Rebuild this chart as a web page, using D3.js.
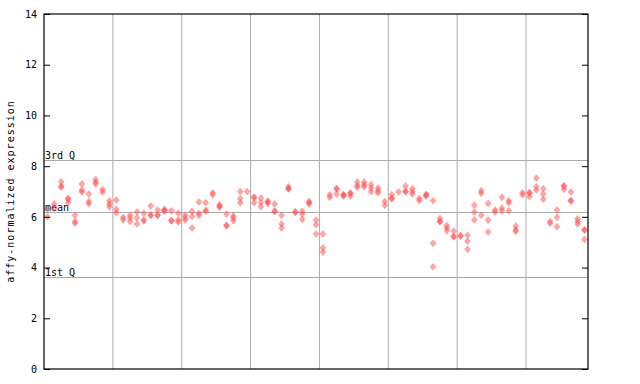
<!DOCTYPE html>
<html>
<head>
<meta charset="utf-8">
<script src="https://cdn.jsdelivr.net/npm/d3@7"></script>
<style>
  body { margin: 0; background: #ffffff; }
  text { font-family: "DejaVu Sans Mono", monospace; }
</style>
</head>
<body>
<script>
const width = 640;
const height = 384;

// expression values for each sample column (replicates)
const samples = [
  [6.31, 6.0], [6.51, 6.35], [7.38, 7.2, 7.18], [6.72, 6.7, 6.56], [6.06, 5.82, 5.75],
  [7.3, 7.06, 6.98], [6.9, 6.61, 6.53], [7.47, 7.37, 7.3], [7.08, 6.98], [6.64, 6.51, 6.4],
  [6.66, 6.3, 6.16], [5.98, 5.89], [6.06, 5.96, 5.82], [6.19, 5.96, 5.72], [6.14, 5.87, 5.85],
  [6.43, 6.07, 6.05], [6.27, 6.07, 6.05], [6.3, 6.25, 6.23], [6.24, 5.86, 5.84], [6.14, 5.88, 5.8],
  [6.06, 5.96, 5.88], [6.22, 6.01, 5.56], [6.59, 6.14, 6.06], [6.56, 6.25, 6.23], [6.95, 6.87],
  [6.48, 6.41, 6.39], [6.11, 5.67, 5.65], [6.03, 5.96, 5.85], [7.0, 6.72, 6.56], [7.0],
  [6.78, 6.76, 6.56], [6.74, 6.56, 6.4], [6.62, 6.6, 6.53], [6.51, 6.23, 6.21], [6.06, 5.72, 5.56],
  [7.19, 7.12, 7.1], [6.2, 6.18], [6.22, 6.11, 5.9], [6.6, 6.58, 6.51], [5.88, 5.69, 5.32],
  [5.32, 4.77, 4.61], [6.87, 6.77], [7.12, 7.1, 6.9], [6.88, 6.86, 6.82], [6.94, 6.92, 6.82],
  [7.37, 7.24, 7.17], [7.37, 7.27, 7.19], [7.27, 7.14, 7.0], [7.14, 7.03, 6.95], [6.61, 6.46],
  [6.87, 6.73, 6.71], [6.98], [7.22, 7.01, 6.99], [7.11, 7.0, 6.9], [6.72, 6.64],
  [6.88, 6.86, 6.82], [6.64, 4.96, 4.03], [5.94, 5.83, 5.81], [5.66, 5.56, 5.45], [5.43, 5.23, 5.21],
  [5.26, 5.24], [5.27, 5.04, 4.72], [6.46, 6.19, 5.88], [7.03, 6.93, 6.06], [6.53, 5.88, 5.4],
  [6.27, 6.19], [6.77, 6.35, 6.24], [6.64, 6.56, 6.24], [5.64, 5.49, 5.43], [6.95, 6.87],
  [6.96, 6.94, 6.8], [7.53, 7.19, 7.06], [7.11, 6.9, 6.69], [5.82, 5.75], [6.27, 5.98, 5.61],
  [7.23, 7.21, 7.09], [6.98, 6.65, 6.63], [5.93, 5.82, 5.72], [5.49, 5.47, 5.11]
];

// gridline positions (between sample columns)
const groupBreaks = [9.5, 19.5, 29.5, 39.5, 49.5, 59.5, 69.5];
const yTicks = [0, 2, 4, 6, 8, 10, 12, 14];
const refValues = [8.24, 6.2, 3.62];
const refLabels = ["3rd Q", "mean", "1st Q"];

const margin = {left: 44, right: 52, top: 14, bottom: 15};

const svg = d3.select("body").append("svg")
    .attr("width", width)
    .attr("height", height);

const x = d3.scaleLinear()
    .domain([-0.5, samples.length - 0.5])
    .range([margin.left, width - margin.right]);

const y = d3.scaleLinear()
    .domain([0, 14])
    .range([height - margin.bottom, margin.top]);

// vertical gridlines
svg.append("g")
    .selectAll("line")
    .data(groupBreaks)
    .join("line")
    .attr("x1", d => x(d))
    .attr("x2", d => x(d))
    .attr("y1", y(14))
    .attr("y2", y(0))
    .attr("stroke", "#aaaaaa")
    .attr("stroke-width", 1);

// quartile / mean lines
svg.append("g")
    .selectAll("line")
    .data(refValues)
    .join("line")
    .attr("x1", x.range()[0])
    .attr("x2", x.range()[1])
    .attr("y1", d => Math.round(y(d)) + 0.5)
    .attr("y2", d => Math.round(y(d)) + 0.5)
    .attr("stroke", "#aaaaaa")
    .attr("stroke-width", 1);

svg.append("g")
    .selectAll("text")
    .data(refValues)
    .join("text")
    .attr("x", x.range()[0] + 1)
    .attr("y", d => Math.round(y(d)) - 1)
    .text((d, i) => refLabels[i])
    .style("font-size", "10px")
    .style("fill", "#000000");

// points
const points = [];
samples.forEach((vals, i) => {
    vals.forEach(v => points.push({i: i, v: v}));
});

const diamond = "M0,-3.5L3,0L0,3.5L-3,0Z";

svg.append("g")
    .selectAll("path")
    .data(points)
    .join("path")
    .attr("d", diamond)
    .attr("transform", d => `translate(${x(d.i)},${y(d.v)})`)
    .attr("fill", "#ff4d4d")
    .attr("fill-opacity", 0.5)
    .attr("stroke", "#ff6666")
    .attr("stroke-opacity", 0.5)
    .attr("stroke-width", 0.6);

// axes
const leftAxis = d3.axisLeft(y)
    .tickValues(yTicks)
    .tickSizeInner(-6)
    .tickSizeOuter(0)
    .tickPadding(7)
    .tickFormat(d3.format("d"));

const gl = svg.append("g")
    .attr("transform", `translate(${margin.left},0)`)
    .call(leftAxis);
gl.select(".domain").remove();
gl.selectAll("text")
    .style("font-family", "DejaVu Sans Mono, monospace")
    .style("font-size", "10px")
    .attr("fill", "#000000");
gl.selectAll("line").attr("stroke", "#000000");

const rightAxis = d3.axisRight(y)
    .tickValues(yTicks)
    .tickSizeInner(-6)
    .tickSizeOuter(0)
    .tickFormat("");

const gr = svg.append("g")
    .attr("transform", `translate(${width - margin.right},0)`)
    .call(rightAxis);
gr.select(".domain").remove();
gr.selectAll("line").attr("stroke", "#000000");

// frame
svg.append("rect")
    .attr("x", margin.left)
    .attr("y", margin.top)
    .attr("width", width - margin.left - margin.right)
    .attr("height", height - margin.top - margin.bottom)
    .attr("fill", "none")
    .attr("stroke", "#000000")
    .attr("stroke-width", 1.2);

// y axis title
svg.append("text")
    .attr("transform", `translate(14,${(y(0) + y(14)) / 2}) rotate(-90)`)
    .attr("text-anchor", "middle")
    .text("affy-normalized expression")
    .style("font-size", "10px")
    .style("letter-spacing", "1px")
    .style("fill", "#000000");
</script>
</body>
</html>
